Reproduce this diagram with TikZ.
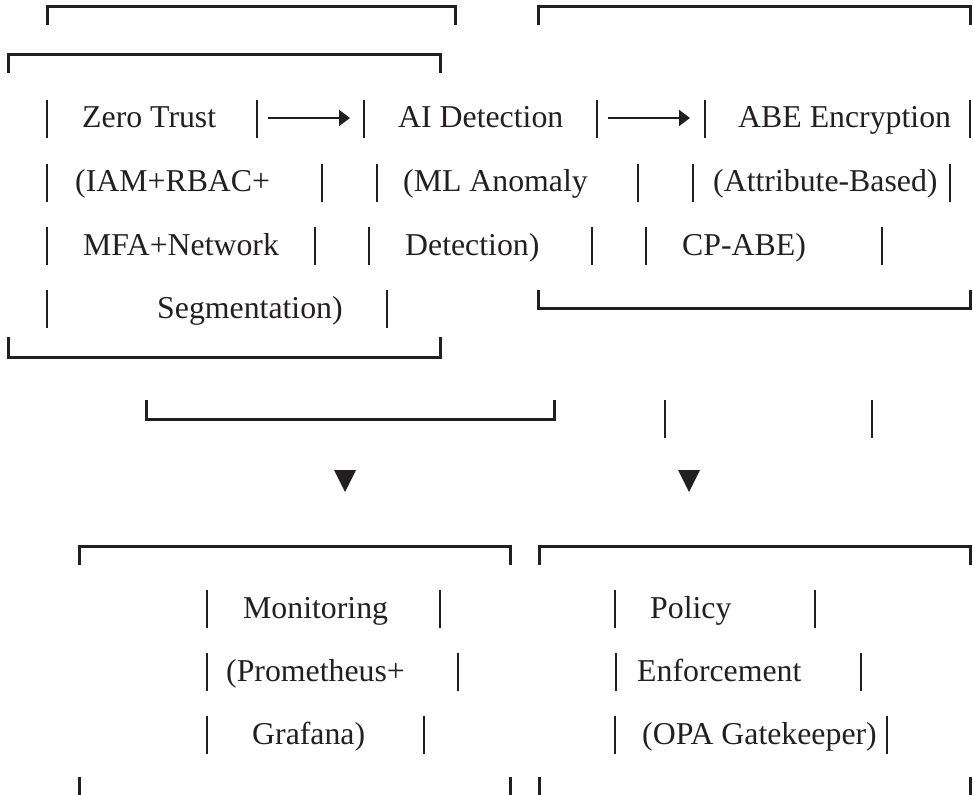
\documentclass[tikz,border=0pt]{standalone}
\usepackage{fontspec}
\setmainfont{Liberation Serif}
\usetikzlibrary{arrows.meta}
\definecolor{ink}{HTML}{231F20}
\tikzset{x=1pt,y=-1pt,
  every node/.style={font=\fontsize{31.8}{38}\selectfont,text=ink},
  frame/.style={draw=ink,line width=3pt},
  bar/.style={draw=ink,line width=2.6pt},
  lbl/.style={anchor=base west,inner sep=0pt},
  flow/.style={-{Triangle[length=11pt,width=16pt]},draw=ink,line width=2.4pt},
  tip/.style={fill=ink}}
\begin{document}
\begin{tikzpicture}
\path[use as bounding box] (0,0) rectangle (973,794);
% brackets
\draw[frame] (47,25)--(47,7)--(455,7)--(455,25) (538,25)--(538,7)--(970,7)--(970,25);
\draw[frame] (8,73)--(8,55)--(440,55)--(440,73) (8,337)--(8,357)--(440,357)--(440,337);
\draw[frame] (538,290)--(538,308)--(970,308)--(970,290) (146,400)--(146,419)--(554,419)--(554,400);
\draw[frame] (79,565)--(79,546)--(510,546)--(510,565) (539,565)--(539,546)--(970,546)--(970,565);
\foreach \x in {79,510,539,970}{\draw[frame] (\x,777)--(\x,800);}
% side bars (x/baseline)
\foreach \x/\y in {47/128,257/128,364/128,597/128,705/128,970/128,
  47/192,322/192,377/192,638/192,693/192,950/192,
  47/255,315/255,369/255,592/255,646/255,882/255,47/318,387/318,665/428,872/428,
  207/618,440/618,615/618,815/618,207/681,458/681,616/681,861/681,
  207/744,424/744,615/744,887/744}{\draw[bar] (\x,\y-28)--(\x,\y+10);}
% top row
\node[lbl] (zt) at (82,128) {Zero Trust};
\node[lbl] (iam) at (75,192) {(IAM+RBAC+};
\node[lbl] (mfa) at (83,255) {MFA+Network};
\node[lbl] (seg) at (157,318) {Segmentation)};
\node[lbl] (ai) at (398,128) {AI Detection};
\node[lbl] (ml) at (403,192) {(ML Anomaly};
\node[lbl] (det) at (405,255) {Detection)};
\node[lbl] (abe) at (738,128) {ABE Encryption};
\node[lbl] (attr) at (713,192) {(Attribute-Based)};
\node[lbl] (cp) at (682,255) {CP-ABE)};
\coordinate (zt-out) at (268,118);\coordinate (ai-in) at (350,118);
\coordinate (ai-out) at (608,118);\coordinate (abe-in) at (690,118);
\draw[flow] (zt-out)--(ai-in);\draw[flow] (ai-out)--(abe-in);
% down marks
\foreach \x in {345,689}{\fill[tip] (\x-11,470)--(\x+11,470)--(\x,492)--cycle;}
% bottom row
\node[lbl] (mon) at (243,618) {Monitoring};
\node[lbl] (prom) at (226,681) {(Prometheus+};
\node[lbl] (graf) at (252,744) {Grafana)};
\node[lbl] (pol) at (650,618) {Policy};
\node[lbl] (enf) at (637,681) {Enforcement};
\node[lbl] (opa) at (642,744) {(OPA Gatekeeper)};
\end{tikzpicture}
\end{document}
